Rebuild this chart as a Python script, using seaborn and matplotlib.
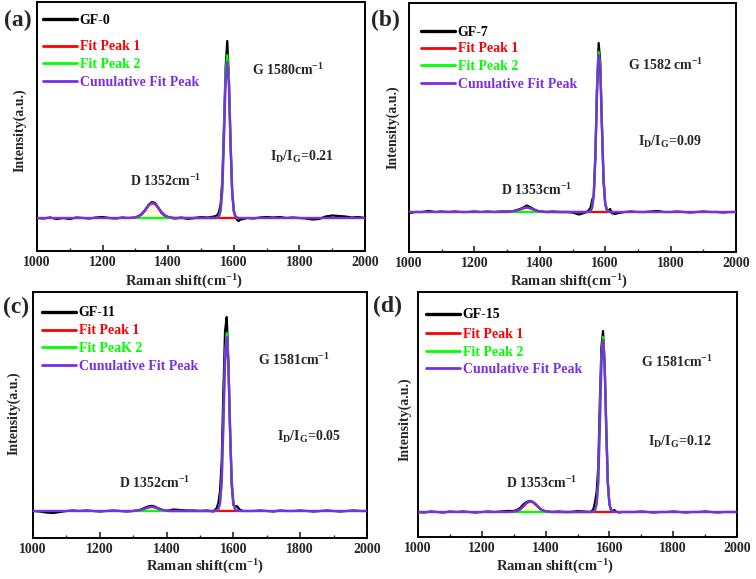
import matplotlib
matplotlib.use("Agg")
import matplotlib.pyplot as plt
import seaborn as sns
from matplotlib.ticker import MultipleLocator

# ---------------- data ----------------
SPEC_X = [1000, 1020, 1040, 1060, 1080, 1100, 1120, 1140, 1160, 1180, 1200, 1220, 1240, 1260, 1280,
          1300, 1310, 1320, 1330, 1340, 1350, 1360, 1370, 1380, 1390, 1400,
          1420, 1440, 1460, 1480, 1500, 1520, 1540,
          1545, 1550, 1555, 1560, 1565, 1570, 1575, 1580, 1585, 1590, 1595, 1600, 1605, 1610, 1615, 1620,
          1630, 1640,
          1660, 1680, 1700, 1720, 1740, 1760, 1780, 1800, 1820, 1840, 1860, 1880, 1900, 1920, 1940, 1960, 1980, 2000]

FIT_X = [1300, 1310, 1320, 1330, 1340, 1350, 1360, 1370, 1380, 1390, 1400, 1410, 1420,
         1440, 1460, 1480, 1500, 1520, 1540,
         1545, 1550, 1555, 1560, 1565, 1570, 1575, 1580, 1585, 1590, 1595, 1600, 1605, 1610, 1615]

CUM_X = [1000, 1280] + FIT_X + [1640, 2000]

# panel (a) GF-0
A_RAW = [0, -0.5, 0.5, -1, 0, -1, 0.5, 0, -0.5, 0.5, 1, 0, -0.5, 0.5, 0,
         0.5, 2, 4, 8, 13, 16, 15, 10, 5, 2, 0.5,
         -0.5, 0.5, -1, 0, 1, 0.5, 1.5,
         2, 3, 6, 14, 38, 92, 150, 177, 140, 75, 26, 7, 1, -2, -3, -1.5,
         -1, 0,
         -0.5, 0.5, 1, 0.5, 1, 0, 0.5, 0, -0.5, -1.5, -1, 1.5, 2.5, 2, 1.5, 0.5, 1, 0]
A_FIT1 = [0.5, 1.5, 4, 8, 12.5, 15, 14, 10, 5.5, 2.5, 1, 0.3, 0,
          0, 0, 0, 0, 0, 0,
          0, 0, 0, 0, 0, 0, 0, 0, 0, 0, 0, 0, 0, 0, 0]
A_FIT2 = [0, 0, 0, 0, 0, 0, 0, 0, 0, 0, 0, 0, 0,
          0, 0, 0, 0, 0, 0,
          0, 0.5, 2, 8, 30, 85, 145, 163, 140, 80, 28, 7, 1.5, 0.3, 0]
A_CUM = [0, 0,
         0.5, 1.5, 4, 8, 12.5, 15, 14, 10, 5.5, 2.5, 1, 0.3, 0,
         0, 0, 0, 0, 0, 0,
         0, 0.5, 2, 8, 28, 80, 136, 156, 134, 76, 27, 7, 1.5, 0.3, 0,
         0, 0]

# panel (b) GF-7
B_RAW = [-1, 0, 0, 1, 0, 0.5, 0, 0.5, 0, 0, 0.5, 0, 0.5, 0, 0.5,
         0.5, 0.5, 1, 2, 3, 4.5, 6.5, 5, 3, 1.5, 0.5,
         0, 0.5, 0, 0, -0.5, -2.5, -0.5,
         0.5, 2, 4, 12, 16, 55, 125, 169, 150, 85, 30, 8, 2, 1, 3, -1,
         -2, -1,
         0, 0.5, 0, 0, 0.5, 1, 0, 0, 0.5, 0, -0.5, 0, 0.5, 0, 0, -0.5, 0, 0]
B_FIT1 = [0, 0.3, 0.8, 1.5, 2.5, 3.8, 4.5, 3.8, 2.5, 1.2, 0.5, 0.2, 0,
          0, 0, 0, 0, 0, 0,
          0, 0, 0, 0, 0, 0, 0, 0, 0, 0, 0, 0, 0, 0, 0]
B_FIT2 = [0, 0, 0, 0, 0, 0, 0, 0, 0, 0, 0, 0, 0,
          0, 0, 0, 0, 0, 0,
          0, 0.3, 1, 4, 18, 60, 125, 160, 145, 90, 35, 9, 2, 0.5, 0]
B_CUM = [0, 0,
         0, 0.3, 0.8, 1.5, 2.5, 3.8, 4.5, 3.8, 2.5, 1.2, 0.5, 0.2, 0,
         0, 0, 0, 0, 0, 0,
         0, 0.3, 1, 4, 17, 57, 120, 157, 140, 86, 33, 9, 2, 0.5, 0,
         0, 0]

# panel (c) GF-11
C_RAW = [0, -0.5, -1.5, -2, -1, 0, 0.5, 0, 0.5, 0, -0.5, 0, 0.5, 0, -0.5,
         0, 0.5, 1, 2.5, 4, 5, 5, 3.5, 2, 0.5, 0,
         1.5, 1, 0.5, 0.5, 0, 0.5, -0.5,
         1, 3, 8, 20, 50, 120, 180, 194, 150, 80, 25, 6, 4, 5, 3, 1,
         0, 0,
         0, 0.5, 0, -0.5, 0.5, 0, 0, 0.5, 0, -0.5, 0, 0.5, 0, -0.5, 0, 0.5, 0, 0]
C_FIT1 = [0, 0.3, 0.8, 1.8, 3, 4, 4, 3, 1.8, 0.8, 0.3, 0, 0,
          0, 0, 0, 0, 0, 0,
          0, 0, 0, 0, 0, 0, 0, 0, 0, 0, 0, 0, 0, 0, 0]
C_FIT2 = [0, 0, 0, 0, 0, 0, 0, 0, 0, 0, 0, 0, 0,
          0, 0, 0, 0, 0, 0,
          0, 0.5, 2, 8, 30, 90, 155, 178, 150, 85, 30, 8, 2, 0.5, 0]
C_CUM = [0, 0,
         0, 0.3, 0.8, 1.8, 3, 4, 4, 3, 1.8, 0.8, 0.3, 0, 0,
         0, 0, 0, 0, 0, 0,
         0, 0.5, 2, 8, 29, 86, 150, 174, 146, 82, 29, 8, 2, 0.5, 0,
         0, 0]

# panel (d) GF-15
D_RAW = [0, -0.5, 0.5, 0, -0.5, 0.5, 0, 0.5, 0, -0.5, 0, 0.5, 0, 0.5, 1,
         1, 2, 4, 7.5, 10, 11, 10, 7, 4, 1.5, 0.5,
         0, 0.5, 0, 0, 1, 0.5, 0,
         1, 3, 10, 20, 45, 110, 165, 181, 150, 85, 30, 8, 2, 1, 2, 0.5,
         -0.5, 0,
         0, 0, 0.5, 0, -0.5, 0, 0, 0.5, 0, -0.5, 0, 0, 0.5, 0, -0.5, 0, 0, 0]
D_FIT1 = [0.3, 1, 2.5, 5.5, 9, 10.5, 10, 7.5, 4, 1.8, 0.6, 0.2, 0,
          0, 0, 0, 0, 0, 0,
          0, 0, 0, 0, 0, 0, 0, 0, 0, 0, 0, 0, 0, 0, 0]
D_FIT2 = [0, 0, 0, 0, 0, 0, 0, 0, 0, 0, 0, 0, 0,
          0, 0, 0, 0, 0, 0,
          0, 0.5, 2, 8, 30, 90, 155, 175, 150, 88, 30, 8, 2, 0.5, 0]
D_CUM = [0, 0,
         0.3, 1, 2.5, 5.5, 9, 10.5, 10, 7.5, 4, 1.8, 0.6, 0.2, 0,
         0, 0, 0, 0, 0, 0,
         0, 0.5, 2, 8, 29, 87, 150, 172, 147, 86, 29, 8, 2, 0.5, 0,
         0, 0]

SAMPLES = ["GF-0", "GF-7", "GF-11", "GF-15"]
PANEL_TAGS = ["(a)", "(b)", "(c)", "(d)"]
FIT2_NAMES = ["Fit Peak 2", "Fit Peak 2", "Fit PeaK 2", "Fit Peak 2"]
G_LABELS = ["G 1580cm$^{-1}$", "G 1582 cm$^{-1}$", "G 1581cm$^{-1}$", "G 1581cm$^{-1}$"]
D_LABELS = ["D 1352cm$^{-1}$", "D 1353cm$^{-1}$", "D 1352cm$^{-1}$", "D 1353cm$^{-1}$"]
RATIOS = ["0.21", "0.09", "0.05", "0.12"]
XTICKS = [1000, 1200, 1400, 1600, 1800, 2000]

RAWS = [A_RAW, B_RAW, C_RAW, D_RAW]
FIT1S = [A_FIT1, B_FIT1, C_FIT1, D_FIT1]
FIT2S = [A_FIT2, B_FIT2, C_FIT2, D_FIT2]
CUMS = [A_CUM, B_CUM, C_CUM, D_CUM]

# ---------------- styling / layout ----------------
sns.set_theme(style="ticks")
plt.rcParams["font.family"] = ["Liberation Serif", "DejaVu Serif"]
plt.rcParams["font.weight"] = "bold"
plt.rcParams["mathtext.fontset"] = "custom"
plt.rcParams["mathtext.rm"] = "Liberation Serif:bold"
plt.rcParams["mathtext.it"] = "Liberation Serif:bold"
plt.rcParams["mathtext.bf"] = "Liberation Serif:bold"
plt.rcParams["mathtext.default"] = "rm"

C_BLACK = "#000000"
C_RED = "#ff0000"
C_GREEN = "#00ff00"
C_PURPLE = "#7a2ee6"

fig = plt.figure(figsize=(7.56, 5.79), dpi=100)
W, H = 756, 579
# axes boxes in pixels: left, top, right, bottom
BOXES = [(37, 2, 365, 251), (409, 3, 736, 252), (33, 292, 367, 538), (418, 292, 737, 537)]
YLIMS = [(-33, 216), (-40, 209), (-27, 219), (-25, 220)]
TAG_POS = [(4, 20), (371, 20), (3, 307), (373, 306)]
YLAB_POS = [(20, 130), (393, 127), (14, 413), (405, 419)]
XLAB_POS = [(184, 282), (569, 282), (205, 567), (555, 567)]
# legend: x of handle start, y of first entry, y of second entry, spacing
LEG_POS = [(43, 20, 47, 17.5), (421, 32, 49, 17.5), (42, 313, 331, 17.5), (426, 315, 334, 18.2)]
G_POS = [(0.655, 0.727), (0.67, 0.75), (0.674, 0.724), (0.70, 0.714)]
R_POS = [(0.71, 0.378), (0.70, 0.44), (0.73, 0.41), (0.72, 0.388)]
D_POS = [(0.283, 0.281), (0.28, 0.25), (0.257, 0.224), (0.276, 0.22)]

LEG_FS = 10
for i in range(4):
    l, t, r, b = BOXES[i]
    ax = fig.add_axes([l / W, 1 - b / H, (r - l) / W, (b - t) / H])
    ax.fill_between(FIT_X, FIT1S[i], 0, color="#fdfdd8", lw=0, zorder=1)
    sns.lineplot(x=SPEC_X, y=RAWS[i], ax=ax, color=C_BLACK, lw=1.6, zorder=2)
    sns.lineplot(x=FIT_X, y=FIT1S[i], ax=ax, color=C_RED, lw=1.6, zorder=3)
    sns.lineplot(x=FIT_X, y=FIT2S[i], ax=ax, color=C_GREEN, lw=1.6, zorder=4)
    sns.lineplot(x=CUM_X, y=CUMS[i], ax=ax, color=C_PURPLE, lw=1.7, zorder=5)

    ax.set_xlim(1000, 2000)
    ax.set_ylim(*YLIMS[i])
    ax.set_xticks(XTICKS)
    ax.xaxis.set_minor_locator(MultipleLocator(100))
    ax.set_yticks([])
    ax.tick_params(axis="x", which="major", direction="in", length=4, width=1.2,
                   labelsize=10, pad=3.5, top=False)
    ax.tick_params(axis="x", which="minor", direction="in", length=2.5, width=1.0, top=False)
    for lab in ax.get_xticklabels():
        lab.set_fontweight("bold")
    for sp in ax.spines.values():
        sp.set_visible(True)
        sp.set_linewidth(1.4)
        sp.set_color("black")
    ax.set_xlabel("")
    ax.set_ylabel("")

    handles = [plt.Line2D([], [], color=C_BLACK, lw=2.4),
               plt.Line2D([], [], color=C_RED, lw=2.0),
               plt.Line2D([], [], color=C_GREEN, lw=2.0),
               plt.Line2D([], [], color=C_PURPLE, lw=2.0)]
    labels = [SAMPLES[i], "Fit Peak 1", FIT2_NAMES[i], "Cunulative Fit Peak"]
    lx, ly1, ly2, sp_ = LEG_POS[i]
    common = dict(frameon=False, handlelength=2.45, handletextpad=0.2,
                  borderaxespad=0, borderpad=0, bbox_transform=fig.transFigure,
                  prop={"weight": "bold", "size": LEG_FS}, loc="center left")
    leg1 = ax.legend(handles[:1], labels[:1], bbox_to_anchor=(lx / W, 1 - ly1 / H),
                     labelcolor=[C_BLACK], **common)
    ax.add_artist(leg1)
    ax.legend(handles[1:], labels[1:], bbox_to_anchor=(lx / W, 1 - (ly2 + sp_) / H),
              labelspacing=0.33, labelcolor=[C_RED, C_GREEN, C_PURPLE], **common)

    ax.text(*G_POS[i], G_LABELS[i], transform=ax.transAxes, fontsize=10,
            fontweight="bold", va="center", ha="left")
    ax.text(*R_POS[i], r"I$_\mathrm{D}$/I$_\mathrm{G}$=" + RATIOS[i], transform=ax.transAxes,
            fontsize=10, fontweight="bold", va="center", ha="left")
    ax.text(*D_POS[i], D_LABELS[i], transform=ax.transAxes, fontsize=10,
            fontweight="bold", va="center", ha="left")

    xx, xy = XLAB_POS[i]
    fig.text(xx / W, 1 - xy / H, "Raman shift(cm$^{-1}$)", fontsize=10.5,
             fontweight="bold", ha="center", va="center")
    yx, yy = YLAB_POS[i]
    fig.text(yx / W, 1 - yy / H, "Intensity(a.u.)", rotation=90, fontsize=10,
             fontweight="bold", ha="center", va="center")
    tx, ty = TAG_POS[i]
    fig.text(tx / W, 1 - ty / H, PANEL_TAGS[i], fontsize=17, fontweight="bold",
             ha="left", va="center")

fig.savefig("out.png", dpi=100, facecolor="white")
